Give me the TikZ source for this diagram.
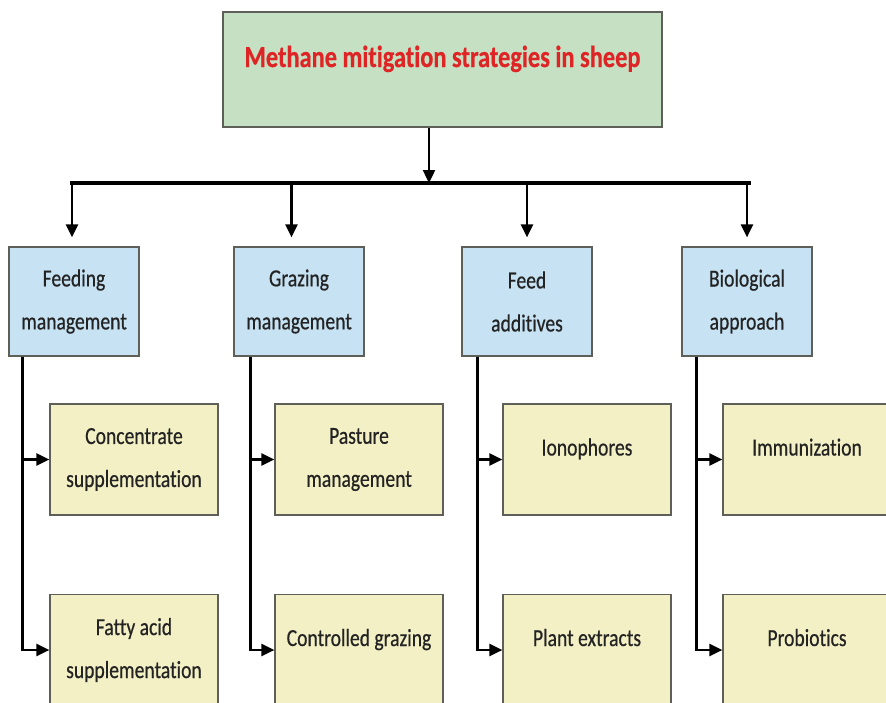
\documentclass[tikz,border=0pt]{standalone}
\usepackage{fontspec}
\setmainfont{Carlito}[FakeStretch=0.8, FakeBold=0.5, Ligatures=NoCommon]
\usetikzlibrary{positioning, arrows.meta}
\definecolor{titlered}{RGB}{222,36,36}
\definecolor{rootgreen}{RGB}{198,224,196}
\definecolor{catblue}{RGB}{198,226,243}
\definecolor{subyellow}{RGB}{243,240,197}
\definecolor{boxline}{RGB}{95,95,90}
\definecolor{textgray}{RGB}{35,35,35}
\tikzset {
    node distance=225pt,
    topbox/.style={draw=boxline, line width=1.2pt, fill=rootgreen, minimum width=439pt, minimum height=115pt,
        text=titlered, font=\fontsize{30.5}{36}\selectfont\bfseries, text height=22pt, text depth=27pt},
    catbox/.style={draw=boxline, line width=1.2pt, fill=catblue, minimum width=130pt, minimum height=109pt,
        align=center, text=textgray, font=\fontsize{24.5}{43}\selectfont},
    subbox/.style={catbox, fill=subyellow, minimum width=168pt, minimum height=111pt},
    oneline/.style={text height=17pt, text depth=25pt},
    arr/.style={-{Triangle[width=12pt,length=13pt]}, line width=2.4pt}
}

\begin{document}
\begin{tikzpicture}[x=1pt, y=1pt]
    \useasboundingbox (0,0) rectangle (886,-702);
    \node[topbox] (root) at (442.5,-69.5) {Methane mitigation strategies in sheep};

    % categories
    \node[catbox] (feed) at (74,-301.5) {Feeding\\management};
    \node[catbox, right of=feed] (graze) {Grazing\\management};
    \node[catbox, right of=graze, xshift=3pt] (addit) {Feed\\additives};
    \node[catbox, right of=addit, xshift=-5pt] (bio) {Biological\\approach};

    % strategies
    \node[subbox, below of=feed, node distance=158pt, xshift=60pt] (conc) {Concentrate\\supplementation};
    \node[subbox, below of=conc, node distance=190.5pt] (fatty) {Fatty acid\\supplementation};
    \node[subbox, below of=graze, node distance=158pt, xshift=60pt] (pasture) {Pasture\\management};
    \node[subbox, oneline, below of=pasture, node distance=190.5pt] (control) {Controlled grazing};
    \node[subbox, oneline, below of=addit, node distance=158pt, xshift=60pt] (iono) {Ionophores};
    \node[subbox, oneline, below of=iono, node distance=190.5pt] (plant) {Plant extracts};
    \node[subbox, oneline, below of=bio, node distance=158pt, xshift=60pt] (immun) {Immunization};
    \node[subbox, oneline, below of=immun, node distance=190.5pt] (probio) {Probiotics};

    % main bar
    \coordinate (hub) at (429,-183);
    \coordinate (feeddrop) at ([xshift=-2pt]feed.north);
    \coordinate (grazedrop) at ([xshift=-7.5pt]graze.north);
    \draw[arr] ([xshift=-13.5pt]root.south) -- (hub);
    \draw[line width=3.4pt, line cap=rect] (feeddrop |- hub) -- ([xshift=2pt]bio.north |- hub);
    \draw[arr, shorten >=9pt] (feeddrop |- hub) -- (feeddrop);
    \draw[arr, shorten >=9pt] (grazedrop |- hub) -- (grazedrop);
    \draw[arr, shorten >=9pt] (addit.north |- hub) -- (addit.north);
    \draw[arr, shorten >=9pt] (bio.north |- hub) -- (bio.north);

    % trunks
    \coordinate (feedtrunk) at ([xshift=14pt]feed.south west);
    \coordinate (grazetrunk) at ([xshift=17pt]graze.south west);
    \coordinate (addittrunk) at ([xshift=16pt]addit.south west);
    \coordinate (biotrunk) at ([xshift=15pt]bio.south west);
    \draw[arr] (feedtrunk) |- (fatty.west);
    \draw[arr] (feedtrunk |- conc.west) -- (conc.west);
    \draw[arr] (grazetrunk) |- (control.west);
    \draw[arr] (grazetrunk |- pasture.west) -- (pasture.west);
    \draw[arr] (addittrunk) |- (plant.west);
    \draw[arr] (addittrunk |- iono.west) -- (iono.west);
    \draw[arr] (biotrunk) |- (probio.west);
    \draw[arr] (biotrunk |- immun.west) -- (immun.west);
\end{tikzpicture}
\end{document}
